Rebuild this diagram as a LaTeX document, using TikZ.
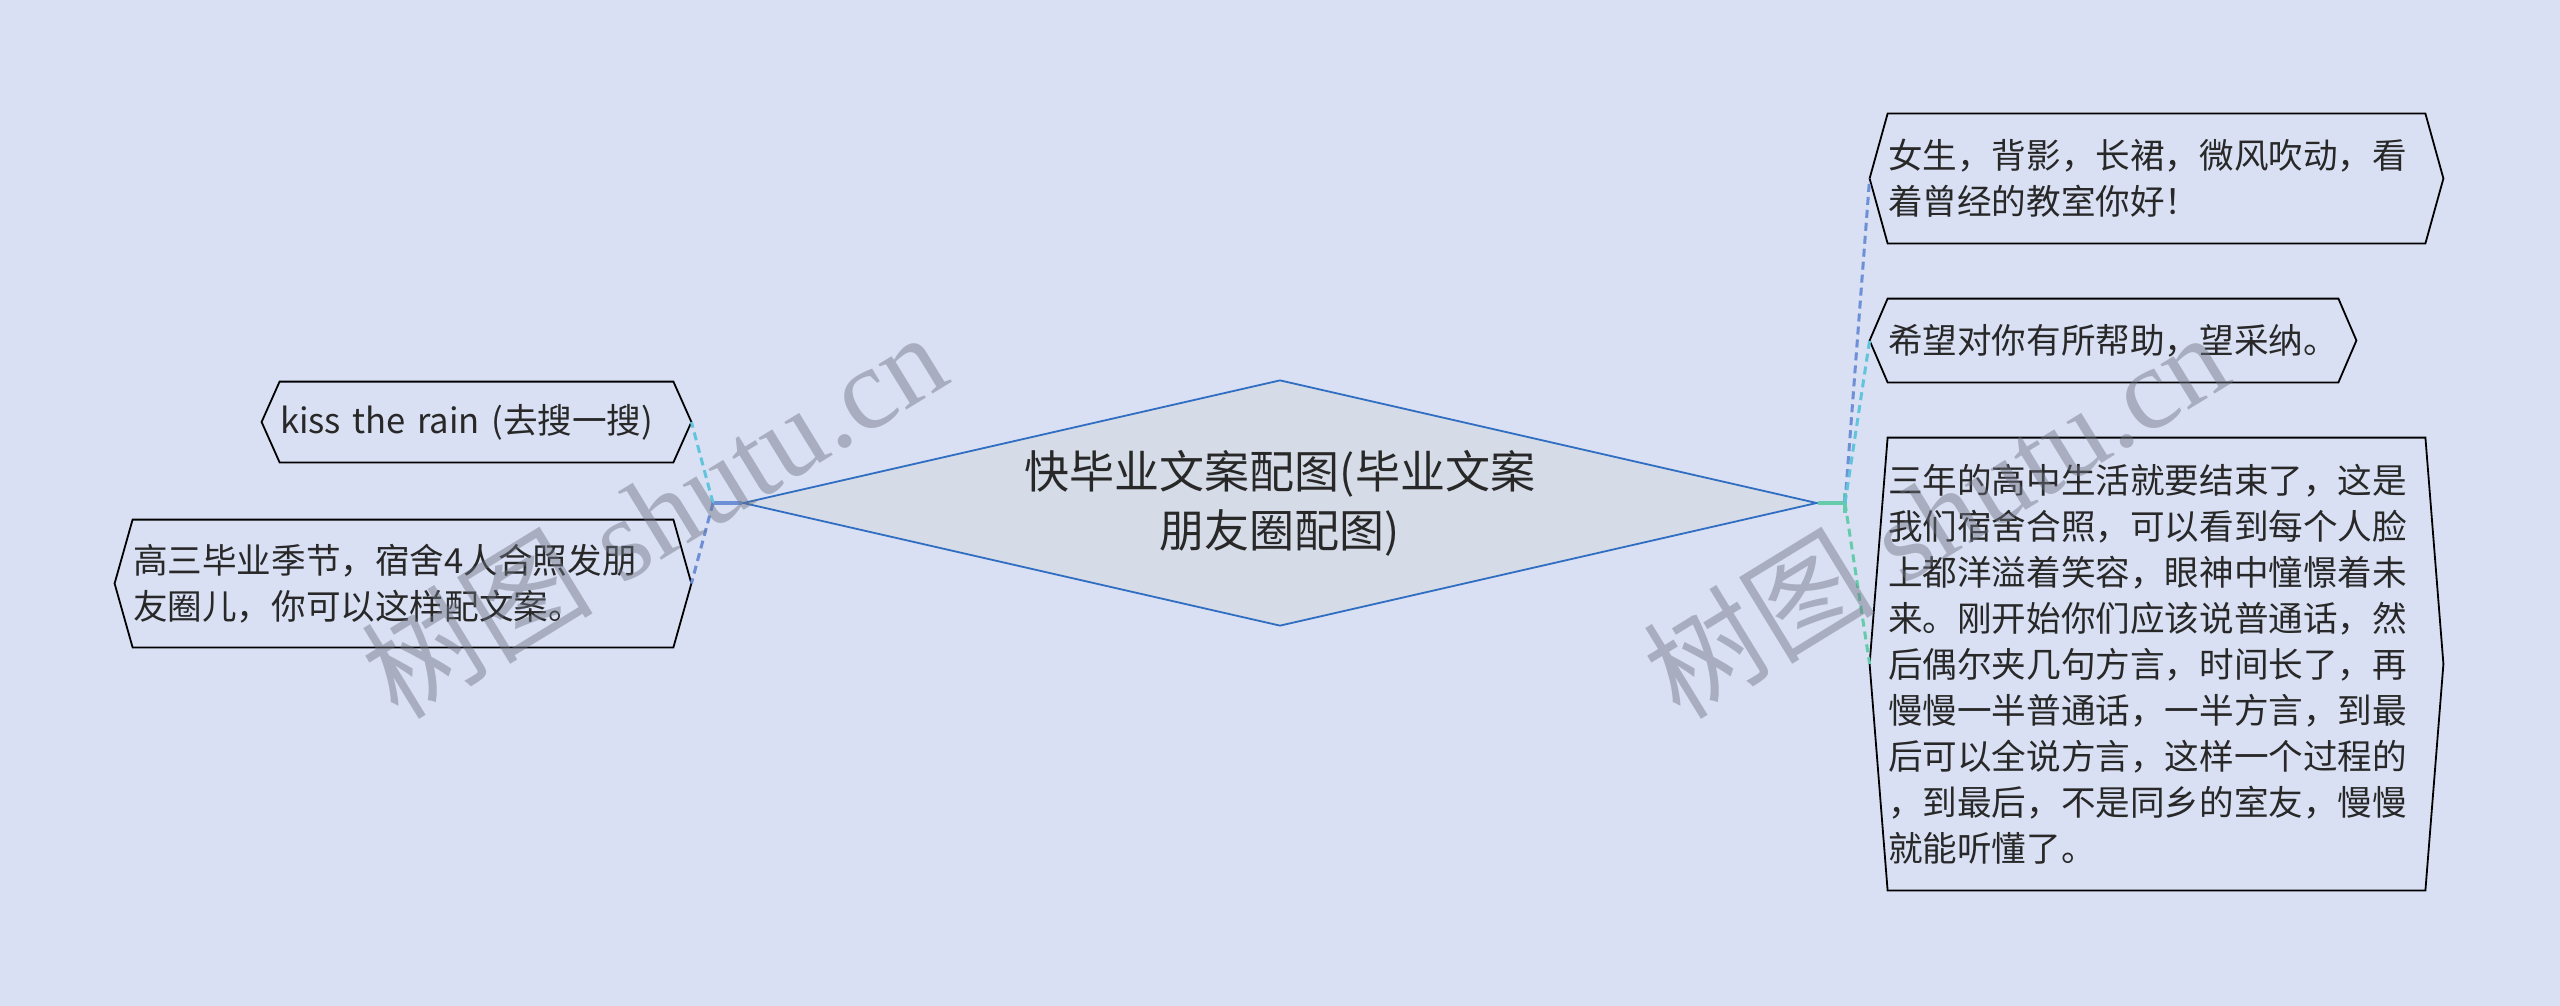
\documentclass[tikz,border=0pt]{standalone}
\usepackage{fontspec}
\usepackage{tikz}
\usetikzlibrary{shapes.geometric}
\newfontfamily\cjk{Noto Sans CJK SC}
\newfontfamily\wmserif{Liberation Serif}
\definecolor{bgcol}{RGB}{217,224,243}
\definecolor{rootfill}{RGB}{213,219,231}
\definecolor{rootline}{RGB}{47,110,194}
\definecolor{txtcol}{RGB}{40,40,40}
\definecolor{lnblue}{RGB}{108,143,214}
\definecolor{lncyan}{RGB}{96,196,220}
\definecolor{lngreen}{RGB}{100,204,170}
\definecolor{wmcol}{RGB}{110,115,132}
\tikzstyle{root}=[diamond, draw=rootline, fill=rootfill, line width=0.9pt, aspect=4.37, inner sep=0pt, minimum width=537pt, minimum height=123pt, align=center, text=txtcol, font=\cjk\fontsize{22.5}{29.5}\selectfont]
\tikzstyle{leaf}=[inner sep=0pt, align=left, text=txtcol, font=\cjk\fontsize{17.3}{23}\selectfont]
\tikzstyle{hexline}=[draw=black, line width=0.9pt]
\tikzstyle{link}=[line width=1.5pt, dash pattern=on 4pt off 2.5pt]
\tikzstyle{stub}=[line width=1.6pt]
\tikzstyle{wmark}=[text=wmcol, opacity=0.45, font=\wmserif\fontsize{58}{58}\selectfont, rotate=31.5]

\begin{document}
\begin{tikzpicture}[x=0.5pt, y=-0.5pt]
        \fill[bgcol] (0,0) rectangle (2560,1006);
        \useasboundingbox (0,0) rectangle (2560,1006);
        % centre
        \node[root] (Root) at (1280,503) {快毕业文案配图(毕业文案\\朋友圈配图)};
        % left side
        \node[leaf, text width=196.5pt, minimum height=40pt] (Kiss) at (476.5,422) {kiss the rain (去搜一搜)};
        \node[leaf, text width=270pt, minimum height=63.5pt] (Gao) at (403,583.5) {高三毕业季节，宿舍4人合照发朋\\友圈儿，你可以这样配文案。};
        % right side
        \node[leaf, text width=268.5pt, minimum height=64.5pt] (Nv) at (2156.5,178.5) {女生，背影，长裙，微风吹动，看\\着曾经的教室你好！};
        \node[leaf, text width=225pt, minimum height=41.5pt] (Xi) at (2113,340.5) {希望对你有所帮助，望采纳。};
        \node[leaf, text width=268.5pt, minimum height=226pt] (San) at (2156.5,664) {三年的高中生活就要结束了，这是\\我们宿舍合照，可以看到每个人脸\\上都洋溢着笑容，眼神中憧憬着未\\来。刚开始你们应该说普通话，然\\后偶尔夹几句方言，时间长了，再\\慢慢一半普通话，一半方言，到最\\后可以全说方言，这样一个过程的\\，到最后，不是同乡的室友，慢慢\\就能听懂了。};
        \foreach \n in {Kiss,Gao,Nv,Xi,San}
          \draw[hexline] (\n.north west) -- (\n.north east) -- ([xshift=9pt]\n.east) -- (\n.south east) -- (\n.south west) -- ([xshift=-9pt]\n.west) -- cycle;
        \coordinate (L) at (713,503);
        \coordinate (R) at (1845,503);
        \coordinate (Kiss-tip) at ([xshift=9pt]Kiss.east);
        \coordinate (Gao-tip) at ([xshift=9pt]Gao.east);
        \coordinate (Nv-tip) at ([xshift=-9pt]Nv.west);
        \coordinate (Xi-tip) at ([xshift=-9pt]Xi.west);
        \coordinate (San-tip) at ([xshift=-9pt]San.west);
        \draw[stub, lnblue, line width=2.2pt] (Root.west) -- (L);
        \draw[link, lncyan] (L) -- (Kiss-tip);
        \draw[link, lnblue] (L) -- (Gao-tip);
        \draw[stub, lngreen] (Root.east) -- (R);
        \draw[stub, lngreen] ([yshift=5pt]R) -- ([yshift=-5pt]R);
        \draw[link, lnblue] (R) -- (Nv-tip);
        \draw[link, lncyan] (R) -- (Xi-tip);
        \draw[link, lngreen] (R) -- (San-tip);
        % watermark
        \node[wmark] (W1) at (653,514) {{\cjk 树图} shutu.cn};
        \node[wmark] (W2) at (1935,514) {{\cjk 树图} shutu.cn};
\end{tikzpicture}
\end{document}
